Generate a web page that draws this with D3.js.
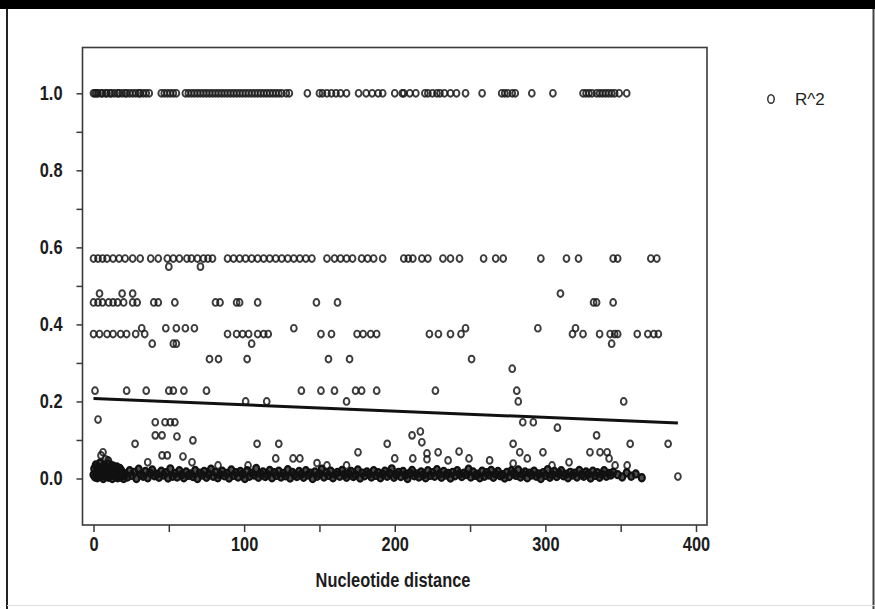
<!DOCTYPE html>
<html><head><meta charset="utf-8">
<script src="https://cdn.jsdelivr.net/npm/d3@7"></script>
<style>
body{margin:0;background:#fff;}
svg{display:block;}
.lab{font-family:'Liberation Sans','Arial',sans-serif;font-weight:bold;fill:#1c1c1c;}
</style></head><body>
<svg id="c" width="875" height="609"></svg>
<script>
// ---- data ----
const xTicks = [0,50,100,150,200,250,300,350,400];
const xLabels = ["0","","100","","200","","300","","400"];
const yTicks = [0,0.1,0.2,0.3,0.4,0.5,0.6,0.7,0.8,0.9,1.0];
const yLabels = ["0.0","","0.2","","0.4","","0.6","","0.8","","1.0"];
const xTitle = "Nucleotide distance";
const legendLabel = "R^2";

// rows of points at repeated R^2 levels: level value and distances
const levels = [1.0, 0.571, 0.55, 0.48, 0.457, 0.39, 0.375, 0.35, 0.31, 0.285, 0.228, 0.2];
const dist100 = [0,1,2,3,5,6,8,9,11,12,14,16,17,19,21,22,24,26,28,30,31,33,35,37,45,47,49,51,53,55,61,63,65,67,69,71,73,75,77,79,81,83,85,87,89,91,93,95,97,99,101,103,105,107,109,111,113,115,117,119,121,123,125,128,130,142,150,152,155,158,161,164,168,176,181,185,189,192,200,205,206,210,214,220,222,225,228,230,233,237,241,247,258,271,273,275,278,280,291,305,325,327,329,331,334,336,338,340,342,344,346,349,354];
const dist0571 = [0,3,6,9,13,17,21,26,31,38,43,49,53,57,62,65,69,73,76,79,89,93,97,101,105,109,113,117,121,125,129,133,137,141,145,155,160,164,168,172,178,182,186,192,206,209,212,218,222,232,237,243,259,267,272,297,314,322,345,348,370,374];
const dist055 = [50,71];
const dist048 = [4,19,26,310];
const dist0457 = [0,3,6,10,13,16,20,26,29,40,43,54,81,84,95,97,109,148,162,332,334,345];
const dist039 = [32,48,55,61,67,133,247,295,320];
const dist0375 = [0,4,9,13,18,22,28,34,89,95,99,103,109,113,116,151,158,175,179,184,188,223,229,237,244,318,325,336,343,346,348,361,368,372,375];
const dist035 = [39,53,55,105,344];
const dist031 = [77,83,102,156,170,251];
const dist0285 = [278];
const dist0228 = [1,22,35,50,53,60,75,138,151,160,174,178,188,227,281];
const dist020 = [101,115,168,282,352];
const levelDists = [dist100,dist0571,dist055,dist048,dist0457,dist039,dist0375,dist035,dist031,dist0285,dist0228,dist020];

// scattered points between the strip and the rows
const scatDist = [3,41,47.5,51,54,41,45.5,55.4,66,27.6,6.3,45.5,49,59.4,36,65.4,9.6,82.7,108.6,123,121,132.5,137,148.4,155,175.6,195,200,102.6,168,285,292,308,334,211.5,217,218,278.6,283,298.4,329.6,336.3,341,356.3,381.5,228.8,242.7,221.4,221.4,212,235.4,249.3,263,278.6,288,304.4,315.7,342.3,346.3,354.3,388,5,8,10,12,4,14,2];
const scatR2 = [0.153,0.146,0.146,0.146,0.146,0.112,0.112,0.109,0.099,0.09,0.068,0.06,0.06,0.057,0.042,0.042,0.047,0.034,0.09,0.09,0.052,0.052,0.052,0.04,0.034,0.068,0.09,0.052,0.034,0.034,0.146,0.146,0.132,0.112,0.112,0.122,0.094,0.09,0.068,0.068,0.068,0.068,0.068,0.09,0.09,0.068,0.07,0.065,0.05,0.052,0.047,0.052,0.047,0.039,0.052,0.034,0.042,0.052,0.034,0.034,0.005,0.06,0.05,0.045,0.035,0.04,0.03,0.03];

// dense strip of near-zero R^2 values
const stripDist = [0,0.5,1,1.5,2,2.5,3,3.5,4,4.5,5,5.5,6,6.5,7,7.5,8,8.5,9,9.5,10,10.5,11,11.5,12,12.5,13,13.5,14,14.5,15,15.5,16,16.5,17,17.5,18,18.5,19,19.5,20,
21,22.5,24,25.5,27,28.5,30,31.5,33,34.5,36,37.5,39,40.5,42,43.5,45,46.5,48,49.5,51,52.5,54,55.5,57,58.5,60,61.5,63,64.5,66,67.5,69,70.5,72,73.5,75,76.5,78,79.5,81,82.5,84,85.5,87,88.5,90,91.5,93,94.5,96,97.5,99,100.5,102,103.5,105,106.5,108,109.5,111,112.5,114,115.5,117,118.5,120,121.5,123,124.5,126,127.5,129,130.5,132,133.5,135,136.5,138,139.5,141,142.5,144,145.5,147,148.5,150,151.5,153,154.5,156,157.5,159,160.5,162,163.5,165,166.5,168,169.5,171,172.5,174,175.5,177,178.5,180,181.5,183,184.5,186,187.5,189,190.5,192,193.5,195,196.5,198,199.5,201,202.5,204,205.5,207,208.5,210,211.5,213,214.5,216,217.5,219,220.5,222,223.5,225,226.5,228,229.5,231,232.5,234,235.5,237,238.5,240,241.5,243,244.5,246,247.5,249,250.5,252,253.5,255,256.5,258,259.5,261,262.5,264,265.5,267,268.5,270,271.5,273,274.5,276,277.5,279,280.5,282,283.5,285,286.5,288,289.5,291,292.5,294,295.5,297,298.5,300,301.5,303,304.5,306,307.5,309,310.5,312,313.5,315,316.5,318,319.5,321,322.5,324,325.5,327,328.5,330,331.5,333,334.5,336,337.5,339,340.5,342,343.5,345,
348,351,354,357,360,364];
const stripR2 = [.01,.025,.004,.035,.015,.002,.03,.008,.02,.04,
.006,.028,.012,0,.033,.018,.005,.024,.01,.038,
.003,.016,.027,.008,.02,0,.032,.012,.022,.006,
.015,.03,.002,.018,.01,.026,.004,.02,.008,.014,
0,
.012,.004,.02,.008,.016,0,.024,.01,.006,.018,
.002,.014,.022,.007,.011,.003,.019,.009,.015,.001,
.025,.006,.013,.004,.02,.01,.002,.017,.008,.012,
.005,.021,0,.014,.009,.018,.003,.011,.024,.006,
.016,.002,.01,.019,.007,.013,.001,.022,.008,.015,
.004,.018,.011,0,.02,.006,.014,.009,.026,.003,
.012,.017,.005,.01,.021,.002,.015,.008,.019,.004,
.013,.007,.023,.001,.016,.01,.005,.018,.011,.003,
.02,.009,.014,0,.017,.006,.012,.024,.004,.015,
.008,.019,.002,.011,.016,.006,.021,.01,.003,.013,
.018,.005,.009,.022,.001,.014,.007,.017,.012,.004,
.02,.008,.015,.002,.011,.019,.006,.013,.025,.003,
.01,.016,.005,.018,.009,0,.014,.021,.007,.012,
.004,.017,.01,.002,.02,.008,.015,.006,.023,.011,
.003,.018,.009,.013,.001,.016,.007,.02,.012,.005,
.014,.01,.024,.004,.017,.008,.011,.002,.019,.006,
.015,.009,.021,.003,.012,.018,.007,.01,.001,.016,
.005,.02,.013,.008,.022,.004,.011,.017,.002,.014,
.009,.019,.006,.012,0,.015,.008,.023,.003,.01,
.018,.005,.013,.02,.007,.011,.002,.016,.009,.014,
.004,.021,.01,.006,.017,.012,.001,.019,.008,.015,
.003,.011,.02,.006,.013,.009,.016,
.01,.004,.015,.006,.012,.002];

// fitted regression line end points
const fitDist = [0, 388];
const fitR2 = [0.208, 0.144];

// ---- drawing ----
const svg = d3.select("#c");
const W = 875, H = 609;
const frame = {l:82.5, r:707, t:47.5, b:525};
const x = d3.scaleLinear().domain([0,400]).range([93.5,696]);
const y = d3.scaleLinear().domain([0,1]).range([478.5,93.3]);
const SX = 0.82; // condensed look of the original lettering

// outer page border
svg.append("rect").attr("x",0).attr("y",0).attr("width",W).attr("height",9).attr("fill","#000");
svg.append("line").attr("x1",7).attr("x2",7).attr("y1",9).attr("y2",H).attr("stroke","#222").attr("stroke-width",2);
svg.append("line").attr("x1",873.5).attr("x2",873.5).attr("y1",9).attr("y2",H).attr("stroke","#444").attr("stroke-width",2);
svg.append("line").attr("x1",7).attr("x2",W).attr("y1",605.5).attr("y2",605.5).attr("stroke","#ddd").attr("stroke-width",1);

// plot frame
svg.append("rect").attr("x",frame.l).attr("y",frame.t).attr("width",frame.r-frame.l).attr("height",frame.b-frame.t)
  .attr("fill","none").attr("stroke","#3a3a3a").attr("stroke-width",1.6);

// axes
const xAxis = d3.axisBottom(x).tickValues(xTicks).tickSize(7).tickPadding(5)
  .tickFormat((d,i)=>xLabels[i]);
const gx = svg.append("g").attr("transform",`translate(0,${frame.b})`).call(xAxis);
gx.select(".domain").remove();
gx.selectAll("line").attr("stroke","#3a3a3a").attr("stroke-width",1.5);
gx.selectAll("text").attr("class","lab").attr("font-size",20).attr("dy","0.71em")
  .attr("transform",`scale(${SX},1)`);

const yAxis = d3.axisLeft(y).tickValues(yTicks).tickSize(6).tickPadding(0)
  .tickFormat((d,i)=>yLabels[i]);
const gy = svg.append("g").attr("transform",`translate(${frame.l},0)`).call(yAxis);
gy.select(".domain").remove();
gy.selectAll("line").attr("stroke","#3a3a3a").attr("stroke-width",1.5);
gy.selectAll("text").attr("class","lab").attr("font-size",20).attr("x",-20/SX)
  .attr("transform",`scale(${SX},1)`);

svg.append("text").attr("class","lab").attr("x",393/SX).attr("y",587).attr("text-anchor","middle")
  .attr("font-size",20).attr("transform",`scale(${SX},1)`).text(xTitle);

// points
const pts = [];
levels.forEach((lv,i)=>levelDists[i].forEach(d=>pts.push([d,lv])));
scatDist.forEach((d,i)=>pts.push([d,scatR2[i]]));
svg.append("g").selectAll("ellipse").data(pts).join("ellipse")
  .attr("cx",d=>x(d[0])).attr("cy",d=>y(d[1])).attr("rx",2.9).attr("ry",3.4)
  .attr("fill","none").attr("stroke","#1a1a1a").attr("stroke-width",1.9).attr("stroke-opacity",0.85);

const strip = stripDist.map((d,i)=>[d,stripR2[i]]);
svg.append("g").selectAll("ellipse").data(strip).join("ellipse")
  .attr("cx",d=>x(d[0])).attr("cy",d=>y(d[1])).attr("rx",3).attr("ry",3.6)
  .attr("fill","#111").attr("fill-opacity",0.75).attr("stroke","#111").attr("stroke-width",2.2);

// regression line
svg.append("line").attr("x1",x(fitDist[0])).attr("y1",y(fitR2[0])).attr("x2",x(fitDist[1])).attr("y2",y(fitR2[1]))
  .attr("stroke","#111").attr("stroke-width",3);

// legend
svg.append("ellipse").attr("cx",771).attr("cy",99).attr("rx",3.2).attr("ry",4.3)
  .attr("fill","none").attr("stroke","#333").attr("stroke-width",1.5);
svg.append("text").attr("x",795).attr("y",99).attr("dy","0.35em")
  .style("font-family","'Liberation Sans',Arial,sans-serif").style("font-size","17px").attr("fill","#222")
  .text(legendLabel);
</script></body></html>
